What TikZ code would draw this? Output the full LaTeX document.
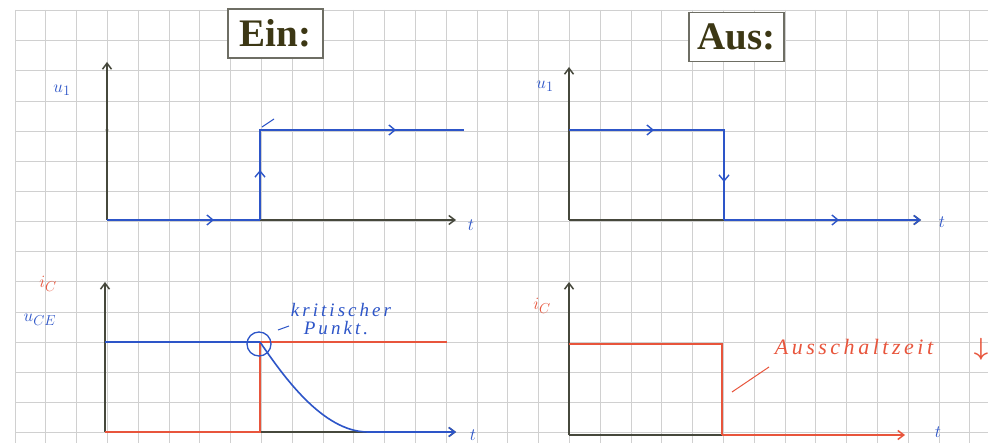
\documentclass[tikz,border=0pt]{standalone}
\usepackage{fontspec}
\setmainfont{Liberation Serif}
\newfontfamily\handfont[LetterSpace=16.0]{Liberation Serif}
\usetikzlibrary{arrows.meta}
\definecolor{gridc}{RGB}{208,208,208}
\definecolor{axisc}{RGB}{70,72,60}
\definecolor{bluec}{RGB}{45,85,200}
\definecolor{redc}{RGB}{232,85,60}
\definecolor{titlec}{RGB}{60,55,20}
\definecolor{boxc}{RGB}{110,110,100}
\begin{document}
\begin{tikzpicture}[x=1pt,y=-1pt,
 gridline/.style={gridc,line width=0.8pt},
 axisline/.style={axisc,line width=1.6pt,-{Straight Barb[length=6pt,width=9pt,line width=1.5pt]}},
 sigb/.style={bluec,line width=1.6pt},
 sigr/.style={redc,line width=1.6pt},
 chev/.style={-{Straight Barb[length=6pt,width=10pt,line width=1.4pt]}},
 titlebox/.style={draw=boxc,line width=1.2pt,fill=white,inner sep=2pt,text=titlec,font=\fontsize{39}{40}\selectfont\bfseries},
 lab/.style={font=\fontsize{19}{20}\selectfont\itshape},
 hand/.style={font=\handfont\itshape\fontsize{19}{20}\selectfont}]

\useasboundingbox (0,0) rectangle (988,443);
\fill[white] (0,0) rectangle (988,443);
\foreach \k in {0,...,31} \draw[gridline] ({15+30.8*\k},10) -- ({15+30.8*\k},443);
\foreach \k in {0,...,14} \draw[gridline] (15,{10.5+30.15*\k}) -- (988,{10.5+30.15*\k});

% titles
\node[titlebox,minimum width=95pt,minimum height=49pt] (ein) at (275.5,33.5) {Ein:};
\node[titlebox,minimum width=95pt,minimum height=49pt] (aus) at (736.5,37) {Aus:};

% ---------- top left ----------
\draw[axisline] (107,220) -- (107,62);
\draw[axisline] (107,220) -- (456,220);
\fill[axisc] (107,130) circle (1.6);
\draw[sigb,chev] (107,220) -- (214,220);
\draw[sigb] (210,220) -- (260,220);
\draw[sigb,chev] (260,220) -- (260,170);
\draw[sigb] (260,172) -- (260,130) -- (464,130);
\draw[sigb,chev] (300,130) -- (396,130);
\draw[sigb,line width=1pt] (262,127) -- (274,119);
\node[lab,bluec] (u1a) at (62,90) {$u_1$};
\node[lab,bluec] (ta) at (471,225) {$t$};

% ---------- top right ----------
\draw[axisline] (569,220) -- (569,67);
\draw[axisline] (569,220) -- (921,220);
\draw[sigb,chev] (569,130) -- (654,130);
\draw[sigb] (650,130) -- (724,130) -- (724,220);
\draw[sigb,chev] (724,130) -- (724,182);
\draw[sigb,chev] (724,220) -- (839,220);
\draw[sigb,-{Straight Barb[length=6pt,width=9pt,line width=1.5pt]}] (835,220) -- (921,220);
\node[lab,bluec] (u1b) at (545,86) {$u_1$};
\node[lab,bluec] (tb) at (942,222) {$t$};

% ---------- bottom left ----------
\draw[axisline] (105,432) -- (105,282);
\draw[axisline] (105,432) -- (456,432);
\draw[sigr] (105,432) -- (260,432) -- (260,342) -- (447,342);
\draw[sigb] (105,342) -- (260,342);
\draw[sigb] (260,342) .. controls (282,374) and (322,432) .. (368,432);
\draw[sigb,-{Straight Barb[length=6pt,width=9pt,line width=1.5pt]}] (367,432) -- (456,432);
\draw[bluec,line width=1.3pt] (259,344) circle (12);
\draw[bluec,line width=1pt] (278,330) -- (289,326);
\node[hand,bluec] (krit) at (341,310) {kritischer};
\node[hand,bluec] (punkt) at (336,328) {Punkt.};
\node[lab,redc] (ica) at (48,284) {$i_C$};
\node[lab,bluec] (ucea) at (40,320) {$u_{CE}$};
\node[lab,bluec] (tc) at (473,435) {$t$};

% ---------- bottom right ----------
\draw[axisline] (569,435) -- (569,282);
\draw[axisc,line width=1.6pt] (569,435) -- (722,435);
\draw[sigr] (569,344) -- (722,344) -- (722,435);
\draw[sigr,-{Straight Barb[length=6pt,width=9pt,line width=1.5pt]}] (722,435) -- (905,435);
\draw[redc,line width=1pt] (732,392) -- (769,367);
\node[hand,redc,font=\handfont\itshape\fontsize{22}{23}\selectfont] (ausz) at (854,347) {Ausschaltzeit};
\node[redc,font=\fontsize{24}{24}\selectfont\boldmath] (darr) at (981,349) {$\downarrow$};
\node[lab,redc] (icb) at (542,306) {$i_C$};
\node[lab,bluec] (td) at (938,432) {$t$};
\end{tikzpicture}
\end{document}
